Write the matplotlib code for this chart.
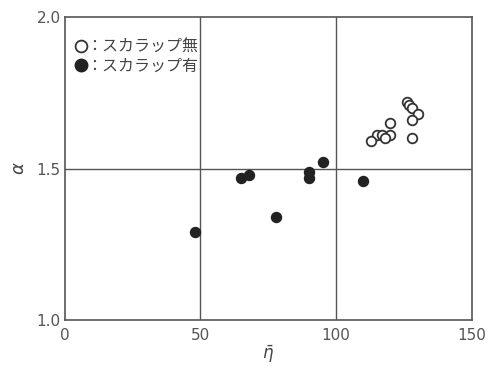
import matplotlib
matplotlib.use('Agg')
import matplotlib.pyplot as plt
from matplotlib.lines import Line2D

# スカラップ無 (open circles)
eta_open = [126, 127, 128, 130, 128, 120, 115, 117, 120, 118, 113, 128]
alpha_open = [1.72, 1.71, 1.70, 1.68, 1.66, 1.65, 1.61, 1.61, 1.61, 1.60, 1.59, 1.60]

# スカラップ有 (filled circles)
eta_fill = [48, 65, 68, 78, 90, 90, 95, 110]
alpha_fill = [1.29, 1.47, 1.48, 1.34, 1.49, 1.47, 1.52, 1.46]

xticks = [0, 50, 100, 150]
yticks = [1.0, 1.5, 2.0]

fig = plt.figure(figsize=(4.91, 3.72), dpi=100)
ax = fig.add_axes([0.132, 0.140, 0.829, 0.814])

ax.scatter(eta_open, alpha_open, s=48, facecolors='white', edgecolors='#333333',
           linewidths=1.3, zorder=3)
ax.scatter(eta_fill, alpha_fill, s=52, color='#222222', zorder=3)

ax.set_xlim(0, 150)
ax.set_ylim(1.0, 2.0)
ax.set_xticks(xticks)
ax.set_yticks(yticks)
ax.set_xticklabels([str(t) for t in xticks])
ax.set_yticklabels(['%.1f' % t for t in yticks])
ax.tick_params(length=0, labelsize=11, labelcolor='#555555')
ax.tick_params(axis='x', pad=6)
ax.tick_params(axis='y', pad=3)

for v in [50, 100]:
    ax.axvline(v, color='#555555', lw=1.0)
ax.axhline(1.5, color='#555555', lw=1.0)
for s in ax.spines.values():
    s.set_color('#555555')
    s.set_linewidth(1.2)

ax.set_xlabel(r'$\bar{\eta}$', fontsize=12, color='#444444', labelpad=0)
ax.set_ylabel(r'$\alpha$', fontsize=13, color='#444444', labelpad=6)

handles = [
    Line2D([], [], marker='o', ls='', markersize=8.5, markerfacecolor='white',
           markeredgecolor='#333333', markeredgewidth=1.3),
    Line2D([], [], marker='o', ls='', markersize=9, color='#222222'),
]
leg = ax.legend(handles, ['：スカラップ無', '：スカラップ有'], loc='upper left',
                bbox_to_anchor=(-0.015, 0.97), frameon=False, handletextpad=-0.3,
                labelspacing=0.1, borderpad=0.3, handlelength=1.2,
                prop={'family': ['Noto Sans CJK JP', 'DejaVu Sans'], 'size': 11.5})
for t in leg.get_texts():
    t.set_color('#444444')

fig.savefig('out.png', dpi=100)
